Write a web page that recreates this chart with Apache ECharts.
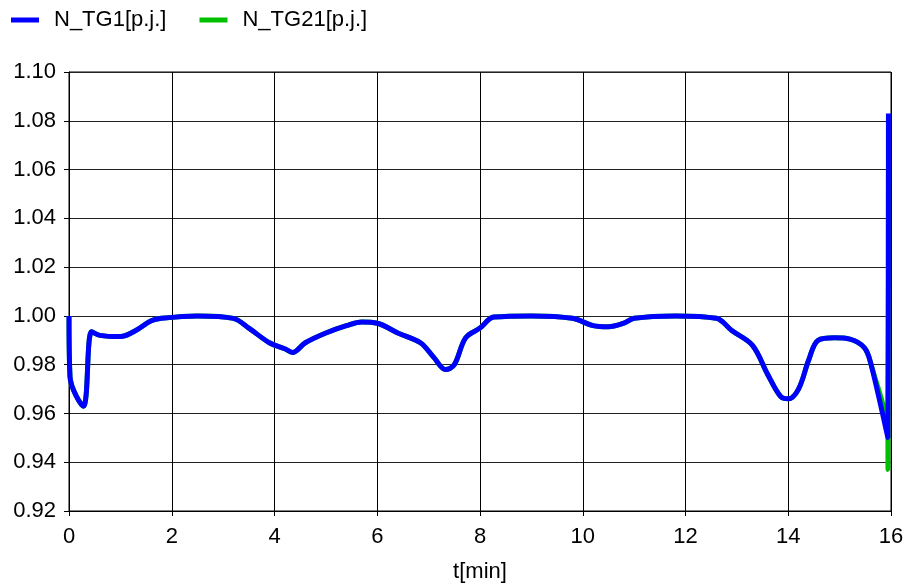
<!DOCTYPE html>
<html><head><meta charset="utf-8">
<script src="https://cdn.jsdelivr.net/npm/echarts@6/dist/echarts.min.js"></script>
<style>html,body{margin:0;padding:0;background:#fff}#c{width:906px;height:584px}</style>
</head><body><div id="c"></div>
<script>
const seriesNames = ['N_TG1[p.j.]', 'N_TG21[p.j.]'];
const xTitle = 't[min]';
const tg1 = [
 [0,1.000],[0.02,0.975],[0.28,0.963],[0.44,0.9935],[0.6,0.992],[1.0,0.9915],[1.3,0.994],[1.6,0.998],[1.8,0.999],
 [2.5,1.000],[3.2,0.999],[3.5,0.995],[3.9,0.989],[4.2,0.9865],[4.35,0.985],[4.6,0.989],[5.0,0.993],[5.4,0.996],
 [5.7,0.9975],[6.0,0.997],[6.4,0.993],[6.84,0.989],[7.1,0.983],[7.33,0.978],[7.5,0.980],[7.72,0.991],[8.0,0.995],
 [8.27,0.9995],[9.0,1.000],[9.8,0.999],[10.2,0.996],[10.5,0.9955],[10.8,0.997],[11.0,0.999],[11.8,1.000],[12.6,0.999],
 [12.9,0.994],[13.3,0.988],[13.6,0.976],[13.85,0.967],[14.0,0.966],[14.2,0.970],[14.4,0.982],[14.58,0.990],[14.9,0.991],
 [15.2,0.9905],[15.48,0.987],[15.6,0.981],[15.94,0.950],[15.95,1.083]
];
const tg21 = tg1.slice(0, tg1.length - 1).concat([[15.941,0.937],[15.95,1.060]]);

const chart = echarts.init(document.getElementById('c'));
const font = 'Liberation Sans, Arial, sans-serif';
chart.setOption({
  animation:false,
  textStyle:{fontFamily:font},
  legend:{left:6, top:4, itemWidth:28, itemHeight:5, itemGap:33, icon:'rect',
    data:seriesNames, textStyle:{fontSize:22, color:'#000', fontFamily:font, padding:[0,0,0,10]}},
  grid:{left:69, right:15, top:72, bottom:73, show:true, borderColor:'#000', borderWidth:1,
    containLabel:false, outerBoundsMode:'none'},
  xAxis:{type:'value', min:0, max:16, interval:2, name:xTitle, nameLocation:'middle', nameGap:50,
    nameTextStyle:{fontSize:22, color:'#000'},
    axisLine:{lineStyle:{color:'#000'}}, axisTick:{show:true, inside:false, length:5, lineStyle:{color:'#000'}},
    axisLabel:{fontSize:22, color:'#000', margin:15},
    splitLine:{show:true, lineStyle:{color:'#000', width:1}}},
  yAxis:{type:'value', min:0.92, max:1.10, interval:0.02,
    axisLine:{show:true, lineStyle:{color:'#000'}}, axisTick:{show:true, length:5, lineStyle:{color:'#000'}},
    axisLabel:{fontSize:22, color:'#000', margin:13, formatter:v=>v.toFixed(2)},
    splitLine:{show:true, lineStyle:{color:'#222', width:1}}},
  series:[
    {name:seriesNames[0], type:'line', data:tg1, showSymbol:false, smooth:0.35, z:3,
      lineStyle:{color:'#0000ff', width:5}, itemStyle:{color:'#0000ff'}},
    {name:seriesNames[1], type:'line', data:tg21, showSymbol:false, smooth:0.35, z:2,
      lineStyle:{color:'#00c000', width:5}, itemStyle:{color:'#00c000'}}
  ]
});
</script></body></html>
